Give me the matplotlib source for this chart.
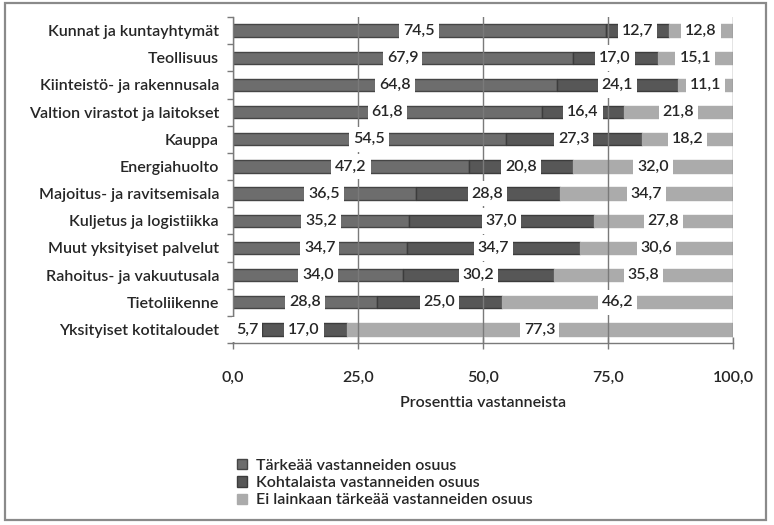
import matplotlib
matplotlib.use("Agg")
import matplotlib.pyplot as plt
from matplotlib.path import Path
from matplotlib.patches import Rectangle, Patch
import numpy as np

plt.rcParams['font.family'] = ['Lato', 'DejaVu Sans']

categories = ["Kunnat ja kuntayhtymät", "Teollisuus", "Kiinteistö- ja rakennusala",
              "Valtion virastot ja laitokset", "Kauppa", "Energiahuolto",
              "Majoitus- ja ravitsemisala", "Kuljetus ja logistiikka",
              "Muut yksityiset palvelut", "Rahoitus- ja vakuutusala",
              "Tietoliikenne", "Yksityiset kotitaloudet"]
tarkea = [74.5, 67.9, 64.8, 61.8, 54.5, 47.2, 36.5, 35.2, 34.7, 34.0, 28.8, 5.7]
kohtalainen = [12.7, 17.0, 24.1, 16.4, 27.3, 20.8, 28.8, 37.0, 34.7, 30.2, 25.0, 17.0]
ei_tarkea = [12.8, 15.1, 11.1, 21.8, 18.2, 32.0, 34.7, 27.8, 30.6, 35.8, 46.2, 77.3]
series_names = ["Tärkeää vastanneiden osuus", "Kohtalaista vastanneiden osuus",
                "Ei lainkaan tärkeää vastanneiden osuus"]
x_ticks = [0, 25, 50, 75, 100]
x_label = "Prosenttia vastanneista"

fills = ["#6d6d6d", "#575757", "#ababab"]
edges = ["#454545", "#3c3c3c", "#ababab"]
TXT = "#262626"
WEIGHT = "semibold"

W, H = 774, 525
fig = plt.figure(figsize=(W / 100, H / 100), dpi=100)
ax = fig.add_axes([233 / W, 1 - 343 / H, 500 / W, 326 / H])

# figure border
fig.patches.append(Rectangle((5 / W, 1 - 520 / H), 761 / W, 517 / H, transform=fig.transFigure,
                             fill=False, edgecolor="#8a8a8a", linewidth=1.6))

y = np.arange(len(categories))
series = [tarkea, kohtalainen, ei_tarkea]
left = np.zeros(len(categories))
FS = 11.5


def rowbox(x0, y0, width, height, mutation_size):
    px = 0.25 * mutation_size
    py = 0.36 * mutation_size
    x1, y1 = x0 - px, y0 - py
    x2, y2 = x0 + width + px, y0 + height + py
    return Path([(x1, y1), (x2, y1), (x2, y2), (x1, y2), (x1, y1)],
                [Path.MOVETO, Path.LINETO, Path.LINETO, Path.LINETO, Path.CLOSEPOLY])


for vals, fc, ec in zip(series, fills, edges):
    vals = np.array(vals)
    ax.barh(y, vals, left=left, height=0.46, color=fc, edgecolor=ec, linewidth=1.0, zorder=1)
    for yi, l, v in zip(y, left, vals):
        ax.text(l + v / 2, yi, f"{v:.1f}".replace('.', ','), ha='center', va='center',
                fontsize=FS, color=TXT, fontweight=WEIGHT, zorder=4,
                bbox=dict(boxstyle=rowbox, facecolor='white', edgecolor='none'))
    left = left + vals

ax.set_xlim(0, 100)
ax.set_ylim(len(categories) - 0.5, -0.5)
ax.set_xticks(x_ticks)
ax.set_xticklabels([f"{t:.1f}".replace('.', ',') for t in x_ticks], fontsize=FS, color=TXT,
                   fontweight=WEIGHT)
ax.xaxis.grid(True, color="#7a7a7a", linewidth=1.0, zorder=1.5)
ax.set_axisbelow(False)
for gl in ax.get_xgridlines():
    gl.set_zorder(1.5)
ax.tick_params(axis='x', direction='inout', length=8, width=1, color="#7a7a7a", pad=16)

ax.set_yticks(y)
ax.set_yticklabels(categories, fontsize=FS, color=TXT, fontweight=WEIGHT)
ax.set_yticks(np.arange(len(categories) + 1) - 0.5, minor=True)
ax.tick_params(axis='y', which='major', length=0, pad=10)
ax.tick_params(axis='y', which='minor', direction='out', length=4, width=1, color="#7a7a7a")

for s in ['top', 'right']:
    ax.spines[s].set_visible(False)
for s in ['left', 'bottom']:
    ax.spines[s].set_color("#7a7a7a")
    ax.spines[s].set_linewidth(1.0)
    ax.spines[s].set_zorder(2)

ax.set_xlabel(x_label, fontsize=FS, color=TXT, fontweight=WEIGHT, labelpad=8)

handles = [Patch(facecolor=fc, edgecolor=ec, linewidth=1.0) for fc, ec in zip(fills, edges)]
leg = fig.legend(handles, series_names, loc='upper left', bbox_to_anchor=(237 / W, 1 - 459 / H),
                 frameon=False, prop=dict(size=FS, weight=WEIGHT), handlelength=0.6,
                 handleheight=0.6, handletextpad=0.6, labelspacing=0.2, borderaxespad=0,
                 borderpad=0, labelcolor=TXT)

fig.savefig("out.png", dpi=100)
